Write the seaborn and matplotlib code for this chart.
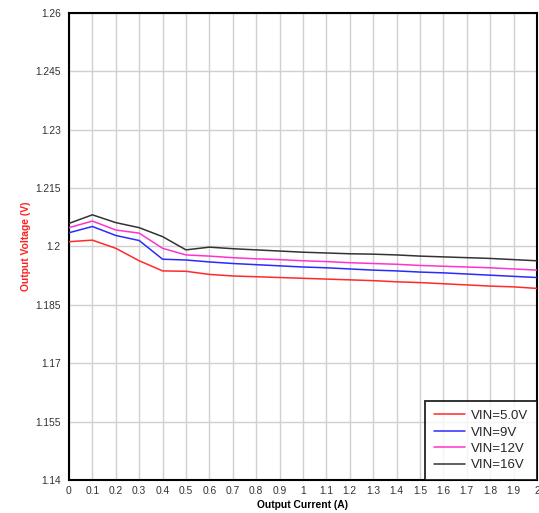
import numpy as np
import pandas as pd
import matplotlib
matplotlib.use("Agg")
import matplotlib.pyplot as plt
import seaborn as sns

current = [0.0, 0.1, 0.2, 0.3, 0.4, 0.5, 0.6, 0.7, 0.8, 0.9, 1.0,
           1.1, 1.2, 1.3, 1.4, 1.5, 1.6, 1.7, 1.8, 1.9, 2.0]
vin_5v = [1.2012, 1.2016, 1.1995, 1.1963, 1.1937, 1.1936, 1.1928, 1.1924, 1.1922, 1.1920, 1.1918,
          1.1916, 1.1914, 1.1912, 1.1909, 1.1907, 1.1904, 1.1901, 1.1898, 1.1896, 1.1892]
vin_9v = [1.2035, 1.2051, 1.2028, 1.2015, 1.1967, 1.1965, 1.1960, 1.1956, 1.1953, 1.1950, 1.1947,
          1.1945, 1.1942, 1.1939, 1.1937, 1.1934, 1.1932, 1.1929, 1.1926, 1.1923, 1.1920]
vin_12v = [1.2048, 1.2065, 1.2042, 1.2034, 1.1995, 1.1978, 1.1975, 1.1971, 1.1968, 1.1966, 1.1963,
           1.1961, 1.1958, 1.1956, 1.1954, 1.1951, 1.1949, 1.1947, 1.1945, 1.1942, 1.1939]
vin_16v = [1.2059, 1.2081, 1.2061, 1.2048, 1.2025, 1.1991, 1.1998, 1.1994, 1.1991, 1.1988, 1.1985,
           1.1983, 1.1981, 1.1980, 1.1978, 1.1975, 1.1973, 1.1971, 1.1969, 1.1966, 1.1963]
series_names = ["VIN=5.0V", "VIN=9V", "VIN=12V", "VIN=16V"]
colors = ["#ff2a2a", "#2a2aff", "#ff33cc", "#333333"]
x_ticks = [0.0, 0.1, 0.2, 0.3, 0.4, 0.5, 0.6, 0.7, 0.8, 0.9, 1.0,
           1.1, 1.2, 1.3, 1.4, 1.5, 1.6, 1.7, 1.8, 1.9, 2.0]
x_tick_labels = ["0", "0.1", "0.2", "0.3", "0.4", "0.5", "0.6", "0.7", "0.8", "0.9", "1",
                 "1.1", "1.2", "1.3", "1.4", "1.5", "1.6", "1.7", "1.8", "1.9", "2"]
y_ticks = [1.14, 1.155, 1.17, 1.185, 1.2, 1.215, 1.23, 1.245, 1.26]
y_tick_labels = ["1.14", "1.155", "1.17", "1.185", "1.2", "1.215", "1.23", "1.245", "1.26"]

frames = []
for name, vals in zip(series_names, [vin_5v, vin_9v, vin_12v, vin_16v]):
    frames.append(pd.DataFrame({"Current": current, "Voltage": vals, "Series": name}))
df = pd.concat(frames, ignore_index=True)

sns.set_style("white")
plt.rcParams["font.family"] = ["Liberation Sans", "DejaVu Sans"]

fig = plt.figure(figsize=(5.39, 5.13), dpi=100)
ax = fig.add_axes([0.128, 0.0643, 0.8683, 0.9109])

sns.lineplot(data=df, x="Current", y="Voltage", hue="Series",
             hue_order=series_names, palette=dict(zip(series_names, colors)),
             linewidth=1.1, ax=ax, legend=True, zorder=3)

ax.set_xlim(0, 2)
ax.set_ylim(1.14, 1.26)
ax.set_xticks(x_ticks)
ax.set_xticklabels(x_tick_labels)
ax.set_yticks(y_ticks)
ax.set_yticklabels(y_tick_labels)
ax.grid(True, color="#d0d0d0", linewidth=1.0, zorder=0)
ax.tick_params(axis="both", length=0, labelsize=7.4, colors="#333333")
ax.tick_params(axis="x", pad=4)
ax.tick_params(axis="y", pad=6)
for s in ax.spines.values():
    s.set_visible(True)
    s.set_color("black")
    s.set_linewidth(1.5)

ax.set_xlabel("Output Current (A)", fontsize=7.4, fontweight="bold", color="black", labelpad=3)
ax.set_ylabel("Output Voltage (V)", fontsize=7.4, fontweight="bold", color="#ff2020", labelpad=3)

leg = ax.legend(loc="lower right", fontsize=9.5, frameon=True, fancybox=False,
                borderpad=0.65, handlelength=2.4, handletextpad=0.45, labelspacing=0.32,
                borderaxespad=0.0)
leg.get_frame().set_edgecolor("black")
leg.get_frame().set_linewidth(1.4)
for line in leg.get_lines():
    line.set_linewidth(1.1)

fig.savefig("out.png", dpi=100)
